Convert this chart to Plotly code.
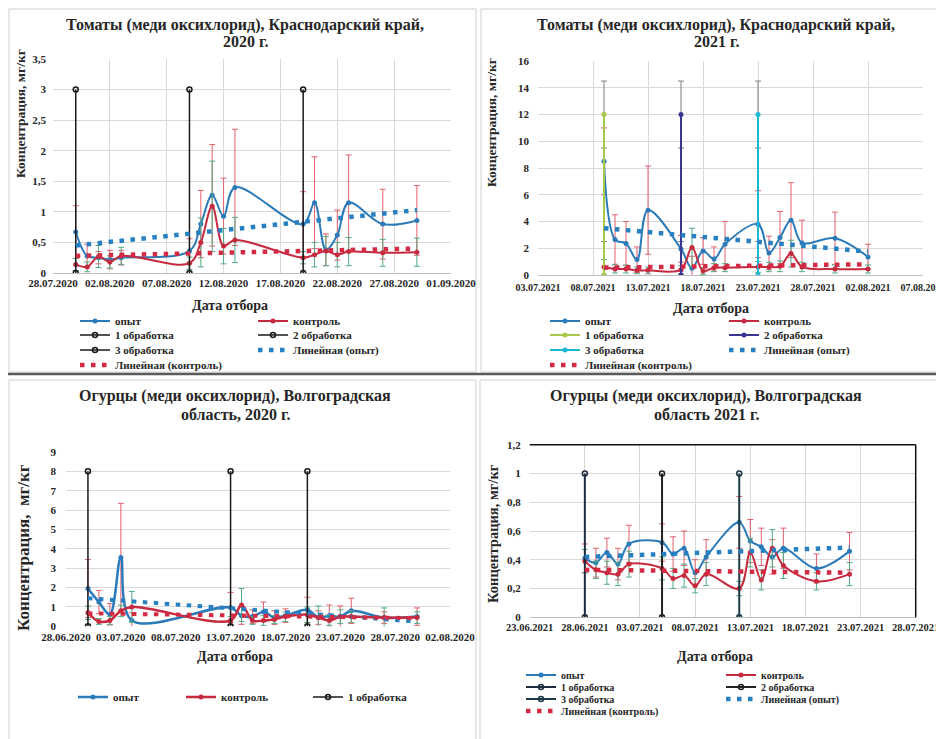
import plotly.graph_objects as go

# ---------------- DATA ----------------
# Panel 1: Томаты, Краснодарский край, 2020
p1_dates = ["2020-07-30", "2020-07-31", "2020-08-01", "2020-08-02", "2020-08-03", "2020-08-09",
            "2020-08-10", "2020-08-11", "2020-08-12", "2020-08-13", "2020-08-19", "2020-08-20",
            "2020-08-21", "2020-08-22", "2020-08-23", "2020-08-26", "2020-08-29"]
p1_exp = [0.67, 0.28, 0.25, 0.22, 0.25, 0.36, 0.80, 1.27, 0.93, 1.40, 0.80, 1.15, 0.38, 0.62, 1.15, 0.80, 0.86]
p1_exp_err = [0.43, 0.19, 0.10, 0.15, 0.12, 0.20, 0.55, 0.83, 0.62, 0.95, 0.53, 0.75, 0.26, 0.41, 0.78, 0.57, 0.57]
p1_ctrl = [0.14, 0.10, 0.27, 0.18, 0.28, 0.16, 0.50, 1.09, 0.44, 0.54, 0.25, 0.30, 0.36, 0.30, 0.35, 0.33, 0.34]
p1_ctrl_err = [0.10, 0.08, 0.18, 0.10, 0.14, 0.10, 0.40, 0.74, 0.29, 0.37, 0.10, 0.20, 0.24, 0.20, 0.23, 0.22, 0.23]
p1_trend_dates = ["2020-07-30", "2020-08-29"]
p1_exp_trend = [0.45, 1.03]
p1_ctrl_trend = [0.28, 0.40]
p1_treat_dates = ["2020-07-30", "2020-08-09", "2020-08-19"]
p1_treat_y = [0, 3]

# Panel 2: Томаты, Краснодарский край, 2021
p2_dates = ["2021-07-09", "2021-07-10", "2021-07-11", "2021-07-12", "2021-07-13", "2021-07-16",
            "2021-07-17", "2021-07-18", "2021-07-19", "2021-07-20", "2021-07-23", "2021-07-24",
            "2021-07-25", "2021-07-26", "2021-07-27", "2021-07-30", "2021-08-02"]
p2_exp = [8.5, 2.65, 2.35, 1.15, 4.85, 1.95, 0.5, 1.8, 1.2, 2.3, 3.8, 1.65, 2.8, 4.1, 2.4, 2.75, 1.35]
p2_exp_err = [2.5, 1.85, 1.65, 0.95, 3.3, 1.0, 0.9, 1.0, 0.9, 1.7, 2.5, 1.25, 1.95, 2.8, 1.7, 1.95, 0.95]
p2_ctrl = [0.6, 0.45, 0.45, 0.35, 0.35, 0.4, 2.05, 0.3, 0.55, 0.55, 0.6, 0.6, 0.65, 1.6, 0.6, 0.45, 0.45]
p2_ctrl_err = [0.55, 0.3, 0.3, 0.25, 0.25, 0.3, 1.45, 0.25, 0.3, 0.3, 0.4, 0.35, 0.4, 1.0, 0.35, 0.3, 0.3]
p2_trend_dates = ["2021-07-09", "2021-08-02"]
p2_exp_trend = [3.5, 1.75]
p2_ctrl_trend = [0.55, 0.8]
p2_treat_dates = ["2021-07-09", "2021-07-16", "2021-07-23"]
p2_treat_y = [0, 12]
p2_treat_err = [2.5, 2.5]

# Panel 3: Огурцы, Волгоградская область, 2020
p3_dates = ["2020-06-30", "2020-07-01", "2020-07-02", "2020-07-03", "2020-07-04", "2020-07-13",
            "2020-07-14", "2020-07-15", "2020-07-16", "2020-07-17", "2020-07-18", "2020-07-20",
            "2020-07-21", "2020-07-22", "2020-07-23", "2020-07-24", "2020-07-27", "2020-07-30"]
p3_exp = [1.95, 1.25, 0.62, 3.55, 0.30, 0.97, 0.55, 0.50, 0.75, 0.45, 0.55, 0.85, 0.45, 0.55, 0.50, 0.80, 0.45, 0.50]
p3_exp_err = [1.50, 0.60, 0.55, 2.80, 0.40, 0.78, 0.45, 0.35, 0.50, 0.35, 0.35, 0.65, 0.35, 0.55, 0.55, 0.65, 0.30, 0.45]
p3_ctrl = [0.70, 0.25, 0.30, 0.80, 1.00, 0.30, 1.10, 0.30, 0.30, 0.35, 0.50, 0.60, 0.45, 0.30, 0.50, 0.50, 0.45, 0.45]
p3_ctrl_err = [0.35, 0.15, 0.20, 0.30, 0.80, 0.20, 0.85, 0.20, 0.25, 0.20, 0.25, 0.40, 0.60, 0.25, 0.35, 0.30, 0.50, 0.30]
p3_trend_dates = ["2020-06-30", "2020-07-30"]
p3_exp_trend = [1.45, 0.25]
p3_ctrl_trend = [0.67, 0.42]
p3_treat_dates = ["2020-06-30", "2020-07-13", "2020-07-20"]
p3_treat_y = [0, 8]

# Panel 4: Огурцы, Волгоградская область, 2021
p4_dates = ["2021-06-28", "2021-06-29", "2021-06-30", "2021-07-01", "2021-07-02", "2021-07-05",
            "2021-07-06", "2021-07-07", "2021-07-08", "2021-07-09", "2021-07-12", "2021-07-13",
            "2021-07-14", "2021-07-15", "2021-07-16", "2021-07-19", "2021-07-22"]
p4_exp = [0.41, 0.38, 0.45, 0.37, 0.51, 0.52, 0.44, 0.48, 0.31, 0.42, 0.66, 0.53, 0.49, 0.42, 0.48, 0.34, 0.46]
p4_exp_err = [0.10, 0.10, 0.10, 0.11, 0.13, 0.13, 0.12, 0.12, 0.09, 0.12, 0.18, 0.15, 0.13, 0.12, 0.14, 0.10, 0.13]
p4_ctrl = [0.39, 0.33, 0.31, 0.30, 0.37, 0.34, 0.27, 0.29, 0.22, 0.30, 0.20, 0.45, 0.26, 0.48, 0.36, 0.25, 0.30]
p4_ctrl_err = [0.08, 0.06, 0.08, 0.08, 0.09, 0.08, 0.07, 0.08, 0.05, 0.08, 0.05, 0.10, 0.07, 0.13, 0.09, 0.06, 0.08]
p4_trend_dates = ["2021-06-28", "2021-07-22"]
p4_exp_trend = [0.42, 0.485]
p4_ctrl_trend = [0.33, 0.31]
p4_treat_dates = ["2021-06-28", "2021-07-05", "2021-07-12"]
p4_treat_y = [0, 1]

# Text
titles = [
    ["Томаты (меди оксихлорид), Краснодарский край,", "2020 г."],
    ["Томаты (меди оксихлорид), Краснодарский край,", "2021 г."],
    ["Огурцы (меди оксихлорид), Волгоградская", "область, 2020 г."],
    ["Огурцы (меди оксихлорид), Волгоградская", "область 2021 г."],
]
ytitles = ["Концентрация, мг/кг", "Концентрация, мг/кг", "Концентрация,  мг/кг", "Концентрация, мг/кг"]
xtitle = "Дата отбора"
n_exp, n_ctrl = "опыт", "контроль"
n_treat = ["1 обработка", "2 обработка", "3 обработка"]
n_trend_exp, n_trend_ctrl = "Линейная (опыт)", "Линейная (контроль)"

# ---------------- STYLE ----------------
W, H = 944, 739
FONT = "Liberation Serif, DejaVu Serif, serif"
TXT = "#262626"
BLUE = "#2b7bba"
RED = "#c62a3f"
ERR_RED = "#e4606d"
ERR_GREEN = "#52ab86"
TREND_BLUE = "#2680c2"
TREND_RED = "#d42a44"
GRID = "#d9d9d9"
DAY = 86400000


def fx(p):
    return p / W


def fy(p):
    return 1 - p / H


fig = go.Figure()
legend_layouts = {}
legend_counter = [0]


def new_legend(text_x, y, size=11):
    legend_counter[0] += 1
    k = legend_counter[0]
    lid = "legend" if k == 1 else f"legend{k}"
    legend_layouts[lid] = dict(
        x=fx(text_x - 40), y=fy(y), xanchor="left", yanchor="middle",
        orientation="v", bgcolor="rgba(0,0,0,0)", borderwidth=0,
        font=dict(family=FONT, size=size, color=TXT, weight="bold"),
        itemclick=False, itemdoubleclick=False, tracegroupgap=0,
    )
    return lid


def scatter(xa, ya, **kw):
    leg = kw.pop("leg", None)
    if leg is not None:
        kw["legend"] = new_legend(*leg)
        kw["showlegend"] = True
    else:
        kw["showlegend"] = False
    fig.add_trace(go.Scatter(xaxis=xa, yaxis=ya, hoverinfo="skip", **kw))


def err(arr, color):
    return dict(type="data", array=arr, visible=True, color=color, thickness=1, width=3)


def data_traces(xa, ya, dates, exp, exp_err, ctrl, ctrl_err, lw, msz, leg_exp, leg_ctrl):
    scatter(xa, ya, x=dates, y=exp, mode="lines+markers", name=n_exp,
            line=dict(color=BLUE, width=lw, shape="spline", smoothing=1.0),
            marker=dict(color=BLUE, size=msz), error_y=err(exp_err, ERR_RED), leg=leg_exp)
    scatter(xa, ya, x=dates, y=ctrl, mode="lines+markers", name=n_ctrl,
            line=dict(color=RED, width=lw, shape="spline", smoothing=1.0),
            marker=dict(color=RED, size=msz), error_y=err(ctrl_err, ERR_GREEN), leg=leg_ctrl)


def trend_traces(xa, ya, dates, et, ct, leg_e, leg_c, width=4.5):
    scatter(xa, ya, x=dates, y=et, mode="lines", name=n_trend_exp,
            line=dict(color=TREND_BLUE, width=width, dash="4.5px,6.5px"), leg=leg_e)
    scatter(xa, ya, x=dates, y=ct, mode="lines", name=n_trend_ctrl,
            line=dict(color=TREND_RED, width=width, dash="4.5px,6.5px"), leg=leg_c)


# ---------- Panel 1 ----------
data_traces("x", "y", p1_dates, p1_exp, p1_exp_err, p1_ctrl, p1_ctrl_err, 2, 5,
            (107, 313), (285, 313))
p1_leg_treat = [(107, 327), (285, 327), (107, 342)]
for i, d in enumerate(p1_treat_dates):
    scatter("x", "y", x=[d, d], y=p1_treat_y, mode="lines+markers", name=n_treat[i],
            line=dict(color="#1a1a1a", width=1.5),
            marker=dict(symbol="circle-open", size=5, color="#1a1a1a", line=dict(width=1.5)),
            leg=p1_leg_treat[i])
trend_traces("x", "y", p1_trend_dates, p1_exp_trend, p1_ctrl_trend, (285, 342), (107, 357))

# ---------- Panel 2 ----------
data_traces("x2", "y2", p2_dates, p2_exp, p2_exp_err, p2_ctrl, p2_ctrl_err, 2, 5,
            (577, 313), (756, 313))
p2_treat_colors = ["#a8c84a", "#3d3592", "#1fb7d6"]
p2_leg_treat = [(577, 327), (756, 327), (577, 342)]
for i, d in enumerate(p2_treat_dates):
    scatter("x2", "y2", x=[d, d], y=p2_treat_y, mode="lines+markers", name=n_treat[i],
            line=dict(color=p2_treat_colors[i], width=2),
            marker=dict(symbol="circle", size=5, color=p2_treat_colors[i]),
            error_y=dict(type="data", array=p2_treat_err, visible=True, color="#7f7f7f",
                         thickness=1, width=3),
            leg=p2_leg_treat[i])
trend_traces("x2", "y2", p2_trend_dates, p2_exp_trend, p2_ctrl_trend, (756, 342), (577, 357))

# ---------- Panel 3 ----------
data_traces("x3", "y3", p3_dates, p3_exp, p3_exp_err, p3_ctrl, p3_ctrl_err, 2.5, 5,
            (105, 689), (213, 689))
tx, ty = [], []
for d in p3_treat_dates:
    tx += [d, d, None]
    ty += p3_treat_y + [None]
scatter("x3", "y3", x=tx, y=ty, mode="lines+markers", name=n_treat[0],
        line=dict(color="#1a1a1a", width=1.5),
        marker=dict(symbol="circle-open", size=5, color="#1a1a1a", line=dict(width=1.5)),
        leg=(340, 689))
trend_traces("x3", "y3", p3_trend_dates, p3_exp_trend, p3_ctrl_trend, None, None, width=4)

# ---------- Panel 4 ----------
data_traces("x4", "y4", p4_dates, p4_exp, p4_exp_err, p4_ctrl, p4_ctrl_err, 2, 5,
            (553, 667, 10), (753, 667, 10))
p4_treat_colors = ["#1c2b3e", "#222222", "#1d3a48"]
p4_leg_treat = [(553, 679, 10), (753, 679, 10), (553, 691, 10)]
for i, d in enumerate(p4_treat_dates):
    scatter("x4", "y4", x=[d, d], y=p4_treat_y, mode="lines+markers", name=n_treat[i],
            line=dict(color=p4_treat_colors[i], width=2),
            marker=dict(symbol="circle-open", size=5, color=p4_treat_colors[i], line=dict(width=1.5)),
            leg=p4_leg_treat[i])
trend_traces("x4", "y4", p4_trend_dates, p4_exp_trend, p4_ctrl_trend, (753, 691, 10), (553, 703, 10))

# ---------------- AXES ----------------
def xcfg(rng, l, r, anchor, grid=True, size=11, line=True, standoff=0):
    return dict(type="date", range=rng, domain=[fx(l), fx(r)], anchor=anchor,
                tick0=rng[0], dtick=5 * DAY, tickformat="%d.%m.%Y",
                showgrid=grid, gridcolor=GRID, gridwidth=1, zeroline=False,
                showline=line, linecolor="#bfbfbf", linewidth=1, ticks="",
                ticklabelstandoff=standoff,
                tickfont=dict(family=FONT, size=size, color=TXT, weight="bold"),
                fixedrange=True)


def ycfg(rng, dt, top, bottom, anchor, size=11, standoff=6):
    return dict(range=rng, dtick=dt, tick0=0, domain=[fy(bottom), fy(top)], anchor=anchor,
                showgrid=True, gridcolor=GRID, gridwidth=1, zeroline=False, showline=False,
                ticks="", ticklabelstandoff=standoff,
                tickfont=dict(family=FONT, size=size, color=TXT, weight="bold"),
                fixedrange=True)


layout = dict(
    width=W, height=H, margin=dict(l=0, r=0, t=0, b=0, autoexpand=False),
    paper_bgcolor="white", plot_bgcolor="white", separators=", ",
    xaxis=xcfg(["2020-07-28", "2020-09-01"], 45, 443, "y", size=11),
    yaxis=ycfg([0, 3.5], 0.5, 51, 265, "x"),
    xaxis2=xcfg(["2021-07-03", "2021-08-07"], 530, 915, "y2", size=10, standoff=3),
    yaxis2=ycfg([0, 16], 2, 53, 267, "x2", standoff=8),
    xaxis3=xcfg(["2020-06-28", "2020-08-02"], 58, 442, "y3", grid=False, size=11, line=False,
                standoff=3),
    yaxis3=ycfg([0, 9], 1, 444, 618.3, "x3", standoff=9),
    xaxis4=xcfg(["2021-06-23", "2021-07-28"], 521.7, 907.7, "y4", size=10.5),
    yaxis4=ycfg([0, 1.2], 0.2, 436.7, 609.3, "x4", standoff=8),
)
layout.update(legend_layouts)

# ---------------- ANNOTATIONS ----------------
ann = []


def text(x, y, s, size, angle=0):
    ann.append(dict(x=fx(x), y=fy(y), xref="paper", yref="paper", text=s, showarrow=False,
                    xanchor="center", yanchor="middle", textangle=angle,
                    font=dict(family=FONT, size=size, color=TXT, weight="bold")))


title_pos = [(237, 17, 34), (708, 17, 34), (227, 388, 406), (698, 388, 407)]
for (cx, y1, y2), t in zip(title_pos, titles):
    text(cx, y1, t[0], 16)
    text(cx, y2, t[1], 16)

ytitle_pos = [(13, 106, 13.5), (483, 115, 13.5), (15, 540, 17), (485, 526, 14.5)]
for (x, y, s), t in zip(ytitle_pos, ytitles):
    text(x, y, t, s, angle=-90)

for (x, y) in [(222, 297), (703, 300), (227, 648), (707, 648)]:
    text(x, y, xtitle, 14)

layout["annotations"] = ann

# ---------------- FRAMES ----------------
shapes = []
for (x0, y0, x1, y1) in [(1, 1, 468, 364), (473, 1, 943, 364), (1, 372, 468, 737), (472, 372, 941, 735)]:
    shapes.append(dict(type="rect", xref="paper", yref="paper", x0=fx(x0), x1=fx(x1),
                       y0=fy(y0), y1=fy(y1), line=dict(color="#cfcfcf", width=1), layer="below"))
shapes.append(dict(type="line", xref="paper", yref="paper", x0=0, x1=1, y0=fy(366), y1=fy(366),
                   line=dict(color="#5a5a5a", width=2.5)))
shapes.append(dict(type="line", xref="x4 domain", yref="y4 domain", x0=0, x1=1, y0=1, y1=1,
                   line=dict(color="#111111", width=1.5)))
shapes.append(dict(type="line", xref="x4 domain", yref="y4 domain", x0=1, x1=1, y0=0, y1=1,
                   line=dict(color="#111111", width=1.5)))
layout["shapes"] = shapes

fig.update_layout(**layout)
fig.write_html("out.html")
